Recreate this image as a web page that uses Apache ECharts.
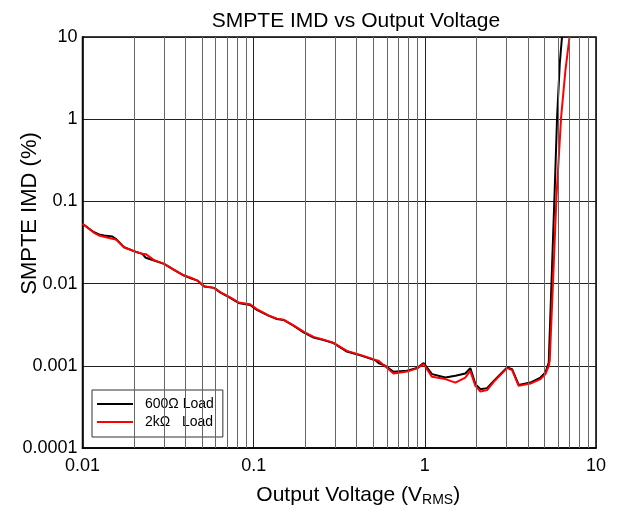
<!DOCTYPE html>
<html>
<head>
<meta charset="utf-8">
<script src="https://cdn.jsdelivr.net/npm/echarts@6/dist/echarts.min.js"></script>
<style>
  html, body { margin: 0; padding: 0; background: #fff; }
  #chart { width: 617px; height: 514px; }
</style>
</head>
<body>
<div id="chart"></div>
<script>
// SMPTE IMD (%) against output voltage (Vrms), two load conditions
const load600Volts = [0.01, 0.01168, 0.01248, 0.01335, 0.01494, 0.01564, 0.01748, 0.02, 0.02237, 0.02342,
  0.0262, 0.02996, 0.03428, 0.0392, 0.04292, 0.04695, 0.0514, 0.05874, 0.06371, 0.07291,
  0.0815, 0.09535, 0.10435, 0.122, 0.1366, 0.1494, 0.1708, 0.1956, 0.2237, 0.256,
  0.2929, 0.3506, 0.4292, 0.514, 0.5367, 0.5874, 0.6567, 0.787, 0.9008, 0.9835,
  1.1014, 1.3176, 1.5089, 1.725, 1.844, 1.9743, 2.1118, 2.3104, 2.5266, 3.024,
  3.235, 3.5349, 4.1368, 4.7366, 5.0676, 5.2951, 5.5433, 5.7191, 5.926, 6.1431, 6.3293];
const load600Imd = [0.0535, 0.0422, 0.0396, 0.0385, 0.0374, 0.0351, 0.0277, 0.0248, 0.023, 0.0206,
  0.0191, 0.0174, 0.0147, 0.01253, 0.01161, 0.01088, 0.00919, 0.00887, 0.00783, 0.0067,
  0.00582, 0.0055, 0.00478, 0.00407, 0.00371, 0.00361, 0.00308, 0.00255, 0.00221, 0.00206,
  0.00189, 0.00149, 0.00132, 0.00117, 0.00108, 0.001, 0.000845, 0.000869, 0.000938, 0.00108,
  0.000792, 0.00072, 0.000755, 0.000805, 0.000938, 0.000598, 0.00052, 0.000535, 0.000656, 0.000953,
  0.000912, 0.000586, 0.000625, 0.00072, 0.000828, 0.001097, 0.0174, 0.1128, 1.067, 4.78, 10];

const load2kVolts = [0.01, 0.01168, 0.01248, 0.01335, 0.01494, 0.01564, 0.01748, 0.02, 0.02237, 0.02342,
  0.0262, 0.02996, 0.03428, 0.0392, 0.04292, 0.04695, 0.0514, 0.05874, 0.06371, 0.07291,
  0.0815, 0.09535, 0.10435, 0.122, 0.1366, 0.1494, 0.1708, 0.1956, 0.2237, 0.256,
  0.2929, 0.3506, 0.4292, 0.514, 0.5367, 0.5874, 0.6567, 0.787, 0.9008, 0.9835,
  1.1014, 1.3176, 1.5089, 1.725, 1.844, 1.9743, 2.1118, 2.3104, 2.5266, 3.024,
  3.235, 3.5349, 4.1368, 4.7366, 5.0676, 5.2951, 5.3675, 5.6674, 5.8743, 6.2569, 6.6292, 7.0015];
const load2kImd = [0.0535, 0.0415, 0.0385, 0.0372, 0.0351, 0.0345, 0.0277, 0.0248, 0.023, 0.0228,
  0.0193, 0.0174, 0.0147, 0.01253, 0.0118, 0.01088, 0.0093, 0.00887, 0.0079, 0.0068,
  0.0059, 0.0056, 0.0049, 0.0041, 0.00375, 0.00364, 0.0031, 0.0026, 0.00225, 0.00208,
  0.0019, 0.00152, 0.00134, 0.00118, 0.00115, 0.00098, 0.000808, 0.00085, 0.00093, 0.00105,
  0.000734, 0.000689, 0.000625, 0.00072, 0.000869, 0.00057, 0.000486, 0.000506, 0.000638, 0.000938,
  0.000887, 0.00057, 0.000608, 0.000689, 0.000792, 0.001, 0.00115, 0.0174, 0.1128, 1.067, 3.96, 10];

const xTickLabels = ['0.01', '0.1', '1', '10'];
const yTickLabels = ['0.0001', '0.001', '0.01', '0.1', '1', '10'];
// intermediate decade lines 2..9 on the voltage axis
const xMinorLines = [0.02, 0.03, 0.04, 0.05, 0.06, 0.07, 0.08, 0.09,
  0.2, 0.3, 0.4, 0.5, 0.6, 0.7, 0.8, 0.9,
  2, 3, 4, 5, 6, 7, 8, 9];

const pairs = (xs, ys) => xs.map((x, i) => [x, ys[i]]);
const font = 'Liberation Sans, Arial, sans-serif';

function tickText(list) {
  return function (v) {
    const hit = list.find(t => Math.abs(Math.log10(parseFloat(t)) - Math.log10(v)) < 1e-6);
    return hit || '';
  };
}

const chart = echarts.init(document.getElementById('chart'), null, { renderer: 'canvas' });
chart.setOption({
  animation: false,
  backgroundColor: '#fff',
  title: {
    text: 'SMPTE IMD vs Output Voltage',
    left: 351, top: 6, textAlign: 'center',
    textStyle: { fontFamily: font, fontSize: 21, fontWeight: 'normal', color: '#000' }
  },
  grid: {
    left: 82.5, right: 21, top: 37, bottom: 66,
    show: true, borderColor: '#000', borderWidth: 1.5, backgroundColor: 'transparent'
  },
  legend: {
    left: 92, top: 390, orient: 'vertical',
    padding: [7, 9, 8, 5], itemGap: 4,
    backgroundColor: '#fff', borderColor: '#333', borderWidth: 1,
    icon: 'rect', itemWidth: 36, itemHeight: 2,
    textStyle: { fontFamily: font, fontSize: 14, lineHeight: 14, color: '#000', padding: [0, 0, 0, 7] },
    data: ['600Ω Load', '2kΩ   Load']
  },
  xAxis: {
    type: 'log', logBase: 10, min: 0.01, max: 10,
    name: '{a|Output Voltage (V}{s|RMS}{a|)}',
    nameLocation: 'middle', nameGap: 36, nameMoveOverlap: false,
    nameTextStyle: {
      padding: [0, 0, 0, 38],
      rich: {
        a: { fontFamily: font, fontSize: 21, color: '#000' },
        s: { fontFamily: font, fontSize: 14, color: '#000', verticalAlign: 'bottom', padding: [9, 0, 0, 0] }
      }
    },
    axisLine: { show: true, lineStyle: { color: '#000', width: 1.5 } },
    axisTick: { show: false },
    axisLabel: { fontFamily: font, fontSize: 18, color: '#000', margin: 9, formatter: tickText(xTickLabels) },
    splitLine: { show: true, lineStyle: { color: '#222', width: 1 } },
    minorTick: { show: false },
    minorSplitLine: { show: false }
  },
  yAxis: {
    type: 'log', logBase: 10, min: 0.0001, max: 10,
    name: 'SMPTE IMD (%)',
    nameLocation: 'middle', nameGap: 42, nameMoveOverlap: false,
    nameTextStyle: { fontFamily: font, fontSize: 22, color: '#000', padding: [0, 0, 0, 58] },
    axisLine: { show: true, lineStyle: { color: '#000', width: 1.5 } },
    axisTick: { show: false },
    axisLabel: { fontFamily: font, fontSize: 18, color: '#000', margin: 5, formatter: tickText(yTickLabels) },
    splitLine: { show: true, lineStyle: { color: '#222', width: 1 } }
  },
  series: [
    {
      name: 'grid-minor', type: 'line', data: [], silent: true, z: 1,
      markLine: {
        silent: true, symbol: 'none', animation: false,
        label: { show: false },
        lineStyle: { color: '#666', width: 1, type: 'solid' },
        data: xMinorLines.map(v => ({ xAxis: v }))
      }
    },
    {
      name: '600Ω Load', type: 'line', data: pairs(load600Volts, load600Imd),
      symbol: 'none', color: '#000', lineStyle: { color: '#000', width: 2 }, z: 3
    },
    {
      name: '2kΩ   Load', type: 'line', data: pairs(load2kVolts, load2kImd),
      symbol: 'none', color: '#f00', lineStyle: { color: '#f00', width: 2 }, z: 4
    }
  ]
});
</script>
</body>
</html>
